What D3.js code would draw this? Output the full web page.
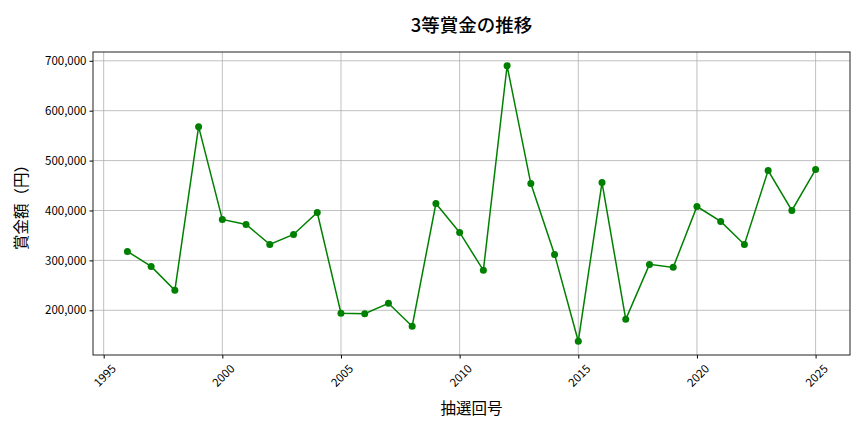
<!DOCTYPE html>
<html>
<head>
<meta charset="utf-8">
<script src="https://cdn.jsdelivr.net/npm/d3@7"></script>
<style>
  body { margin: 0; background: #fff; }
  svg, svg text { font-family: "Noto Sans CJK JP", "Noto Sans", sans-serif; }
</style>
</head>
<body>
<div id="chart"></div>
<script>
// Data
const years = [1996, 1997, 1998, 1999, 2000, 2001, 2002, 2003, 2004, 2005,
  2006, 2007, 2008, 2009, 2010, 2011, 2012, 2013, 2014, 2015,
  2016, 2017, 2018, 2019, 2020, 2021, 2022, 2023, 2024, 2025];
const prizes = [318000, 288000, 240000, 568000, 382000, 372000, 332000, 352000, 396000, 194000,
  193000, 214000, 168000, 414000, 356000, 280000, 690000, 454000, 312000, 138000,
  456000, 182000, 292000, 286000, 408000, 378000, 332000, 480000, 400000, 482000];
const xTicks = [1995, 2000, 2005, 2010, 2015, 2020, 2025];
const yTicks = [200000, 300000, 400000, 500000, 600000, 700000];

const width = 864, height = 432;
const margin = { top: 52, right: 14, bottom: 77, left: 93 };
const plotW = width - margin.left - margin.right;
const plotH = height - margin.top - margin.bottom;
const FONT = '"Noto Sans CJK JP", "Noto Sans", sans-serif';

const svg = d3.select("#chart").append("svg")
  .attr("width", width)
  .attr("height", height);

// matplotlib-like 5% padding on both axes
const xExt = d3.extent(years), yExt = d3.extent(prizes);
const xPad = (xExt[1] - xExt[0]) * 0.05, yPad = (yExt[1] - yExt[0]) * 0.05;

const x = d3.scaleLinear()
  .domain([xExt[0] - xPad, xExt[1] + xPad])
  .range([0, plotW]);
const y = d3.scaleLinear()
  .domain([yExt[0] - yPad, yExt[1] + yPad])
  .range([plotH, 0]);

const g = svg.append("g")
  .attr("transform", `translate(${margin.left},${margin.top})`);

// Grid
g.append("g").selectAll("line")
  .data(xTicks).join("line")
  .attr("x1", d => x(d)).attr("x2", d => x(d))
  .attr("y1", 0).attr("y2", plotH)
  .attr("stroke", "#b0b0b0").attr("stroke-width", 0.8);
g.append("g").selectAll("line")
  .data(yTicks).join("line")
  .attr("x1", 0).attr("x2", plotW)
  .attr("y1", d => y(d)).attr("y2", d => y(d))
  .attr("stroke", "#b0b0b0").attr("stroke-width", 0.8);

// Axes
const xAxis = g.append("g")
  .attr("transform", `translate(0,${plotH})`)
  .call(d3.axisBottom(x).tickValues(xTicks).tickFormat(d3.format("d")).tickSize(3.5).tickPadding(3));
xAxis.attr("font-family", FONT);
xAxis.select(".domain").remove();
// rotated labels centred under the tick, like matplotlib rotation=45
xAxis.selectAll("text")
  .attr("font-size", 11.5)
  .attr("fill", "#000")
  .attr("text-anchor", "middle")
  .attr("dominant-baseline", "central")
  .attr("dy", null)
  .attr("x", 0)
  .attr("y", 0)
  .attr("transform", "translate(0,20) rotate(-45)");

const yAxis = g.append("g")
  .call(d3.axisLeft(y).tickValues(yTicks).tickFormat(d3.format(",")).tickSize(3.5).tickPadding(3));
yAxis.attr("font-family", FONT);
yAxis.select(".domain").remove();
yAxis.selectAll("text").attr("font-size", 11.5).attr("fill", "#000");

// Frame
g.append("rect")
  .attr("width", plotW).attr("height", plotH)
  .attr("fill", "none").attr("stroke", "#222").attr("stroke-width", 1);

// Line + markers
const line = d3.line()
  .x((d, i) => x(years[i]))
  .y(d => y(d));
g.append("path")
  .datum(prizes)
  .attr("d", line)
  .attr("fill", "none")
  .attr("stroke", "green")
  .attr("stroke-width", 1.5);
g.selectAll("circle")
  .data(prizes).join("circle")
  .attr("cx", (d, i) => x(years[i]))
  .attr("cy", d => y(d))
  .attr("r", 3.5)
  .attr("fill", "green");

// Titles
svg.append("text")
  .attr("x", margin.left + plotW / 2)
  .attr("y", 32)
  .attr("text-anchor", "middle")
  .attr("font-size", 18.5)
  .attr("font-weight", 500)
  .text("3等賞金の推移");

svg.append("text")
  .attr("x", margin.left + plotW / 2)
  .attr("y", 414)
  .attr("text-anchor", "middle")
  .attr("font-size", 15.5)
  .text("抽選回号");

svg.append("text")
  .attr("transform", `translate(27,${margin.top + plotH / 2}) rotate(-90)`)
  .attr("text-anchor", "middle")
  .attr("font-size", 15.5)
  .text("賞金額（円）");
</script>
</body>
</html>
